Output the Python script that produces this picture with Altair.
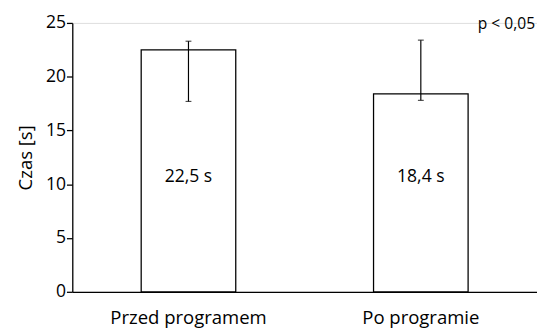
import altair as alt
import pandas as pd

categories = ["Przed programem", "Po programie"]
values = [22.5, 18.4]
err_low = [17.7, 17.8]
err_high = [23.3, 23.4]
labels = ["22,5 s", "18,4 s"]
label_y = [10.7, 10.7]

df = pd.DataFrame({
    "cat": categories, "val": values, "lo": err_low, "hi": err_high,
    "lab": labels, "ly": label_y,
})

FONT = "Open Sans"
W, H = 477, 276

x = alt.X("cat:N", sort=categories, title=None,
          scale=alt.Scale(paddingInner=0.593, paddingOuter=0.2965),
          axis=alt.Axis(labelAngle=0, ticks=False, labelPadding=18, labelFontSize=19,
                        labelFont=FONT, labelColor="black", domainColor="black",
                        domainWidth=1.3))
yscale = alt.Scale(domain=[0, 25], nice=False)

bars = alt.Chart(df).mark_bar(fill="white", stroke="black", strokeWidth=1.3).encode(
    x=x,
    y=alt.Y("val:Q", scale=yscale, title="Czas [s]",
            axis=alt.Axis(values=[0, 5, 10, 15, 20, 25], grid=False, tickSize=6,
                          tickColor="black", tickWidth=1.3, domainColor="black",
                          domainWidth=1.3, labelFontSize=18, labelFont=FONT,
                          labelColor="black", labelPadding=1, titleFontSize=19,
                          titleFont=FONT, titleFontWeight="normal", titleColor="black",
                          titlePadding=10)),
)

rule = alt.Chart(df).mark_rule(color="black", strokeWidth=1.2).encode(
    x=alt.X("cat:N", sort=categories), y=alt.Y("lo:Q", scale=yscale), y2="hi:Q")
cap_lo = alt.Chart(df).mark_tick(color="black", thickness=1.2, size=6, orient="horizontal").encode(
    x=alt.X("cat:N", sort=categories), y=alt.Y("lo:Q", scale=yscale))
cap_hi = alt.Chart(df).mark_tick(color="black", thickness=1.2, size=6, orient="horizontal").encode(
    x=alt.X("cat:N", sort=categories), y=alt.Y("hi:Q", scale=yscale))

text = alt.Chart(df).mark_text(font=FONT, fontSize=18, color="black", baseline="middle").encode(
    x=alt.X("cat:N", sort=categories), y=alt.Y("ly:Q", scale=yscale), text="lab:N")

ptext = alt.Chart(pd.DataFrame({"t": ["p < 0,05"]})).mark_text(
    font=FONT, fontSize=16, color="black", align="right", baseline="middle").encode(
    x=alt.value(475), y=alt.value(1), text="t:N")

chart = alt.layer(bars, rule, cap_lo, cap_hi, text, ptext).properties(
    width=W, height=H,
    autosize=alt.AutoSizeParams(type="none"),
    padding={"left": 66, "top": 11, "right": 0, "bottom": 40},
).configure_view(stroke=None).configure(background="white")

chart.save("out.html", embed_options={"renderer": "svg", "actions": False})
